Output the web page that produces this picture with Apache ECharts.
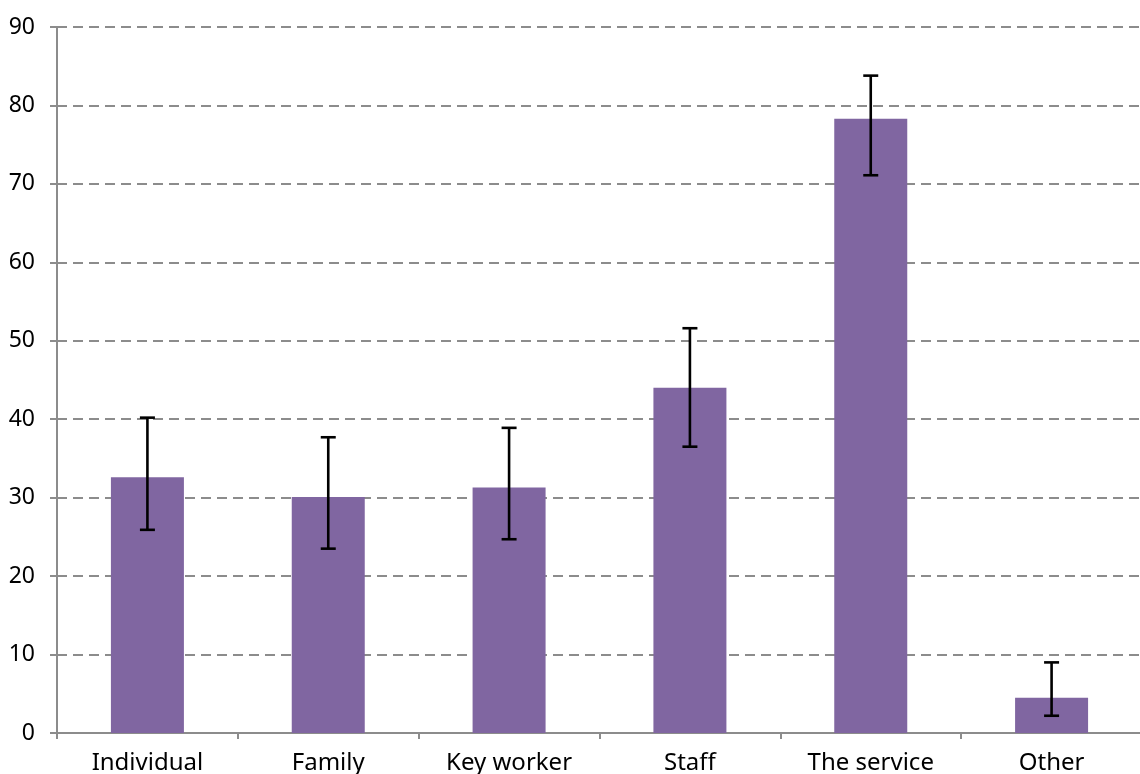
<!DOCTYPE html>
<html>
<head>
<meta charset="utf-8">
<script src="https://cdn.jsdelivr.net/npm/echarts@6/dist/echarts.min.js"></script>
<style>
  html, body { margin: 0; padding: 0; background: #fff; }
  #bar1 { width: 1140px; height: 774px; }
</style>
</head>
<body>
<div id="bar1"></div>
<script>
// 数据
var categories = ['Individual', 'Family', 'Key worker', 'Staff', 'The service', 'Other'];
var values = [32.6, 30.1, 31.3, 44.0, 78.3, 4.5];
var errLow = [25.9, 23.5, 24.7, 36.5, 71.1, 2.2];
var errHigh = [40.2, 37.7, 38.9, 51.6, 83.8, 9.0];
var yTicks = [0, 10, 20, 30, 40, 50, 60, 70, 80, 90];

var myChart = echarts.init(document.getElementById('bar1'));

var errData = categories.map(function (c, i) {
    return [i, errLow[i], errHigh[i]];
});

var option = {
    animation: false,
    textStyle: { fontFamily: 'Noto Sans' },
    grid: {
        top: 27,
        left: 57,
        right: -2,
        bottom: 41,
        outerBoundsMode: 'none'
    },
    xAxis: {
        type: 'category',
        data: categories,
        axisLine: { lineStyle: { color: '#8c8c8c', width: 2 } },
        axisTick: { show: true, length: 6, lineStyle: { color: '#8c8c8c', width: 2 } },
        axisLabel: { color: '#000', fontSize: 24, margin: 18, interval: 0 }
    },
    yAxis: {
        type: 'value',
        min: yTicks[0],
        max: yTicks[yTicks.length - 1],
        interval: 10,
        axisLine: { show: true, lineStyle: { color: '#8c8c8c', width: 2 } },
        axisTick: { show: true, length: 7, lineStyle: { color: '#8c8c8c', width: 2 } },
        axisLabel: { color: '#000', fontSize: 23, margin: 22 },
        splitLine: { lineStyle: { color: '#8c8c8c', width: 2, type: [10, 6] } }
    },
    series: [
        {
            type: 'bar',
            data: values,
            barWidth: 73,
            itemStyle: { color: '#8066a1' }
        },
        {
            type: 'custom',
            data: errData,
            z: 10,
            renderItem: function (params, api) {
                var x = api.value(0);
                var lo = api.coord([x, api.value(1)]);
                var hi = api.coord([x, api.value(2)]);
                var half = 7.5;
                var style = { stroke: '#000', lineWidth: 2.6 };
                return {
                    type: 'group',
                    children: [
                        { type: 'line', shape: { x1: hi[0], y1: hi[1], x2: lo[0], y2: lo[1] }, style: style },
                        { type: 'line', shape: { x1: hi[0] - half, y1: hi[1], x2: hi[0] + half, y2: hi[1] }, style: style },
                        { type: 'line', shape: { x1: lo[0] - half, y1: lo[1], x2: lo[0] + half, y2: lo[1] }, style: style }
                    ]
                };
            }
        }
    ]
};

myChart.setOption(option, true);
</script>
</body>
</html>
